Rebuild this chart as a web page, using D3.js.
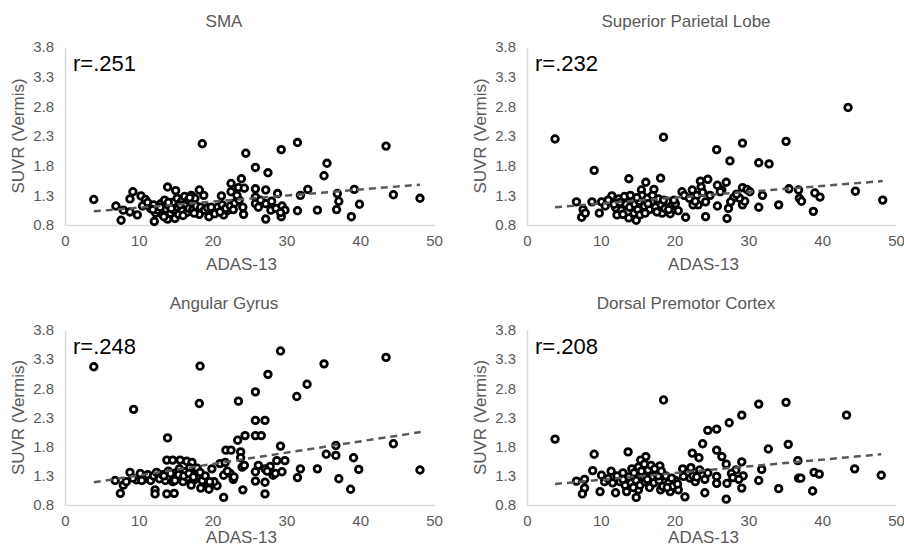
<!DOCTYPE html>
<html>
<head>
<meta charset="utf-8">
<script src="https://cdnjs.cloudflare.com/ajax/libs/d3/7.8.5/d3.min.js"></script>
<style>
body {
    margin: 0;
    background: white;
    font-family: Helvetica, Arial, "Liberation Sans", sans-serif;
}
#canvas {
    background-color: white;
}
</style>
</head>
<body>
<svg id="canvas" width="904" height="548"></svg>
<script>
// tick values
var xTicks = [0, 10, 20, 30, 40, 50];
var yTicks = [0.8, 1.3, 1.8, 2.3, 2.8, 3.3, 3.8];

var titles = ["SMA", "Superior Parietal Lobe", "Angular Gyrus", "Dorsal Premotor Cortex"];
var rLabels = ["r=.251", "r=.232", "r=.248", "r=.208"];

// [ADAS-13, SUVR]
var smaPts = [[3.9,1.23],[18.6,2.17],[24.5,2.01],[29.3,2.07],[31.5,2.19],[43.5,2.13],[35.5,1.84],[35.1,1.63],[25.8,1.77],[27.5,1.68],
  [23.9,1.58],[22.5,1.50],[23.5,1.43],[24.3,1.42],[22.5,1.36],[21.2,1.29],[13.9,1.44],[15.0,1.38],[9.2,1.36],[8.8,1.24],
  [10.3,1.29],[10.9,1.23],[7.6,0.88],[6.9,1.12],[7.9,1.05],[8.8,1.02],[9.8,0.97],[12.1,0.86],[13.9,0.9],[14.9,0.91],
  [18.2,1.39],[18.8,1.30],[18.2,0.98],[19.5,0.94],[20.4,1.05],[21.5,0.97],[22.0,1.04],[24.2,0.98],[25.8,1.41],[25.8,1.27],
  [25.8,1.16],[27.2,1.39],[27.2,1.16],[27.2,0.9],[27.9,1.05],[28.6,1.08],[28.8,1.33],[29.4,1.12],[29.8,1.05],[29.3,0.94],
  [29.2,1.01],[31.5,1.04],[31.9,1.30],[32.9,1.40],[34.2,1.05],[36.9,1.33],[37.1,1.20],[36.8,1.06],[39.2,1.40],[38.8,0.94],
  [39.9,1.15],[44.5,1.31],[48.1,1.25],
  [10.5,1.12],[11.2,1.18],[11.6,1.08],[12.0,1.14],[12.3,1.0],[12.6,1.05],[13.0,1.16],[13.2,0.98],[13.5,1.22],[13.7,1.07],
  [14.1,1.12],[14.3,1.0],[14.6,1.18],[14.8,1.05],[15.2,1.25],[15.3,1.1],[15.4,0.98],[15.8,1.2],[15.9,1.05],[16.2,1.28],
  [16.3,1.15],[16.5,1.01],[16.7,1.22],[16.8,1.08],[17.1,1.3],[17.2,1.18],[17.3,1.05],[17.6,1.25],[17.8,1.12],[18.4,1.1],
  [18.9,1.05],[19.3,1.09],[20.0,1.03],[20.7,1.1],[21.3,1.14],[21.8,1.08],[22.4,1.12],[23.0,1.17],[23.6,1.22],[24.1,1.1],
  [26.5,1.22],[28.0,1.2],
  [11.9,1.06],[12.9,1.1],[13.4,0.94],[14.0,1.18],[14.4,1.08],[15.6,1.14],[16.0,0.96],[16.9,1.26],[17.5,1.0],[19.8,1.1],
  [20.3,0.99],[21.0,1.02],[22.8,1.06],[23.3,1.3],[26.2,1.1]];

var splPts = [[3.8,2.25],[18.5,2.28],[9.1,1.72],[13.8,1.58],[18.1,1.59],[16.1,1.52],[25.7,2.07],[29.2,2.18],[35.1,2.21],[27.5,1.88],
  [31.4,1.85],[32.8,1.83],[43.5,2.78],[24.5,1.57],[23.5,1.54],[23.6,1.44],[25.8,1.47],[27.0,1.52],[26.4,1.39],[29.2,1.43],
  [29.8,1.40],[35.5,1.41],[36.8,1.39],[36.9,1.25],[37.2,1.20],[31.9,1.30],[39.0,1.34],[39.7,1.27],[44.5,1.37],[48.2,1.22],
  [38.8,1.03],[34.1,1.14],[31.4,1.10],[29.2,1.14],[29.5,1.20],[28.8,1.25],[28.0,1.26],[27.6,1.19],[27.3,1.08],[27.1,0.91],
  [25.8,1.12],[24.2,0.94],[21.5,0.93],[23.2,1.14],[22.5,1.14],[24.2,1.19],[21.0,1.36],[22.4,1.39],[6.7,1.19],[7.6,1.06],
  [7.4,0.93],[7.9,1.0],[8.8,1.19],[9.8,1.0],[10.1,1.19],[11.5,1.29],[12.2,0.97],[12.0,1.09],[13.8,0.92],[14.8,0.88],
  [14.5,1.0],[17.2,1.40],[18.3,1.0],[19.4,0.99],[20.5,1.04],[15.5,1.39],[15.6,1.30],
  [10.6,1.12],[11.0,1.22],[11.8,1.15],[12.4,1.24],[12.8,1.05],[13.2,1.28],[13.4,1.15],[13.9,1.1],[14.2,1.24],[14.6,1.15],
  [15.0,1.06],[15.2,1.2],[15.9,1.12],[16.3,1.25],[16.6,1.06],[16.9,1.18],[17.4,1.1],[17.8,1.24],[18.2,1.14],[18.7,1.08],
  [19.0,1.2],[19.6,1.12],[20.1,1.16],[21.3,1.3],[22.0,1.25],[23.0,1.3],[23.8,1.35],[26.2,1.36],[28.4,1.32],
  [12.6,1.18],[13.0,0.98],[14.0,1.3],[14.9,1.26],[15.3,0.97],[16.0,1.0],[16.4,1.16],[17.0,1.3],[17.6,1.02],[18.5,1.22],
  [19.2,1.06],[19.9,1.22],[22.8,1.2],[24.8,1.3],[30.2,1.36]];

var agPts = [[3.9,3.17],[18.3,3.18],[29.2,3.44],[35.1,3.22],[43.5,3.33],[27.5,3.04],[25.8,2.74],[31.4,2.66],[32.8,2.87],[23.5,2.58],
  [18.2,2.54],[9.3,2.44],[25.8,2.25],[27.1,2.25],[13.9,1.95],[25.8,1.99],[26.6,1.99],[24.4,1.99],[23.4,1.91],[29.2,1.81],
  [36.7,1.82],[44.5,1.85],[48.1,1.40],[21.8,1.74],[22.5,1.74],[23.8,1.71],[23.8,1.61],[36.7,1.65],[35.4,1.67],[39.1,1.61],
  [34.2,1.42],[31.9,1.42],[39.8,1.41],[31.5,1.27],[37.1,1.25],[38.7,1.07],[29.8,1.56],[28.7,1.56],[29.4,1.37],[27.8,1.46],
  [27.1,1.42],[27.4,1.38],[25.8,1.37],[25.8,1.21],[27.1,1.19],[27.1,0.99],[28.2,1.31],[28.5,1.34],[24.1,1.06],[21.5,0.93],
  [22.8,1.24],[22.4,1.34],[21.5,1.31],[21.0,1.51],[21.7,1.53],[19.9,1.42],[19.4,1.14],[19.5,1.07],[20.6,1.13],[18.4,1.09],
  [13.8,1.57],[14.6,1.57],[15.6,1.57],[16.5,1.55],[17.2,1.53],[17.9,1.43],[7.5,1.0],[7.9,1.14],[6.8,1.22],[8.8,1.36],
  [9.7,1.23],[10.2,1.34],[12.2,1.06],[12.2,0.99],[13.8,0.99],[14.8,1.0],[17.1,1.14],
  [10.8,1.25],[11.2,1.32],[11.6,1.22],[12.0,1.3],[12.4,1.36],[12.8,1.25],[13.2,1.32],[13.6,1.22],[14.0,1.38],[14.2,1.28],
  [14.6,1.2],[15.0,1.35],[15.2,1.26],[15.5,1.42],[15.8,1.3],[16.0,1.2],[16.3,1.37],[16.6,1.27],[16.9,1.44],[17.3,1.32],
  [17.6,1.24],[18.0,1.3],[18.6,1.22],[19.0,1.3],[20.2,1.2],[22.9,1.28],[24.0,1.45],[26.2,1.48],
  [13.4,1.3],[14.3,1.34],[14.9,1.22],[15.4,1.32],[16.1,1.3],[16.8,1.34],[17.4,1.28],[18.3,1.36],[8.3,1.2],[9.2,1.26],
  [10.4,1.22],[19.6,1.2],[22.0,1.38],[24.3,1.48]];

var dpcPts = [[3.8,1.93],[18.5,2.60],[35.1,2.56],[31.4,2.53],[29.1,2.34],[27.4,2.21],[25.7,2.10],[24.5,2.08],[43.3,2.34],[23.8,1.85],
  [32.7,1.76],[35.4,1.84],[9.1,1.67],[13.7,1.71],[22.4,1.69],[23.3,1.61],[25.7,1.74],[26.4,1.63],[27.0,1.50],[29.1,1.54],
  [36.7,1.56],[16.1,1.63],[15.4,1.57],[18.0,1.47],[8.9,1.39],[11.4,1.38],[14.2,1.42],[44.4,1.42],[48.0,1.31],[38.9,1.36],
  [39.6,1.33],[36.8,1.26],[37.1,1.26],[31.8,1.41],[31.4,1.22],[34.1,1.08],[38.7,1.04],[29.1,1.09],[27.0,0.90],[27.1,1.17],
  [25.7,1.29],[25.7,1.17],[24.1,1.01],[21.4,0.94],[29.3,1.30],[28.3,1.40],[27.7,1.34],[27.9,1.27],[24.1,1.24],[22.8,1.20],
  [22.1,1.26],[21.1,1.42],[22.2,1.44],[21.2,1.29],[23.4,1.40],[6.7,1.21],[7.8,1.24],[7.8,1.09],[7.5,0.99],[9.9,1.03],
  [10.1,1.31],[12.0,1.01],[13.5,1.03],[14.8,0.93],[15.1,1.06],[20.5,1.06],[19.4,1.03],[18.1,1.06],
  [10.5,1.2],[11.0,1.25],[11.6,1.18],[12.2,1.3],[12.6,1.2],[13.0,1.35],[13.3,1.14],[13.8,1.28],[14.1,1.18],[14.5,1.35],
  [14.8,1.22],[15.1,1.45],[15.3,1.14],[15.7,1.3],[16.0,1.2],[16.4,1.4],[16.6,1.1],[16.9,1.28],[17.2,1.18],[17.5,1.36],
  [17.9,1.22],[18.4,1.12],[18.8,1.3],[19.2,1.18],[19.7,1.12],[20.1,1.22],[22.5,1.3],[24.5,1.35],
  [13.0,1.24],[14.4,1.1],[15.5,1.38],[15.9,1.5],[16.3,1.24],[16.8,1.48],[17.3,1.42],[17.8,1.3],[18.2,1.38],[19.0,1.1],
  [19.6,1.26],[20.4,1.16],[23.0,1.28],[28.7,1.24]];

// linear trend line end points
var smaTrend = [[3.9,1.03],[48.1,1.48]];
var splTrend = [[3.8,1.10],[48.2,1.54]];
var agTrend = [[3.9,1.19],[48.2,2.05]];
var dpcTrend = [[3.8,1.16],[48.0,1.67]];

var allPts = [smaPts, splPts, agPts, dpcPts];
var allTrends = [smaTrend, splTrend, agTrend, dpcTrend];

// panel frames: left/right of x axis, bottom/top of y axis, title centre
var frames = [
    {x0: 65, x1: 434, yb: 225, yt: 47, tx: 224, ty: 27, lx: 270},
    {x0: 527, x1: 896, yb: 225, yt: 47, tx: 686, ty: 27, lx: 270},
    {x0: 65, x1: 434, yb: 505, yt: 330, tx: 224, ty: 309, lx: 543},
    {x0: 527, x1: 896, yb: 505, yt: 330, tx: 686, ty: 309, lx: 543}
];

var canvas = d3.select("#canvas");
var grey = "#595959";

frames.forEach(function(f, i) {
    var x = d3.scaleLinear().domain([0, 50]).range([f.x0, f.x1]);
    var y = d3.scaleLinear().domain([0.8, 3.8]).range([f.yb, f.yt]);
    var g = canvas.append("g");

    g.append("text")
        .attr("x", f.tx).attr("y", f.ty)
        .attr("text-anchor", "middle")
        .style("font-size", "17px")
        .style("fill", grey)
        .text(titles[i]);

    var xa = g.append("g")
        .attr("transform", "translate(0," + f.yb + ")")
        .call(d3.axisBottom(x).tickValues(xTicks).tickSize(0).tickPadding(10).tickFormat(d3.format("d")));
    var ya = g.append("g")
        .attr("transform", "translate(" + f.x0 + ",0)")
        .call(d3.axisLeft(y).tickValues(yTicks).tickSize(0).tickPadding(11).tickFormat(d3.format(".1f")));
    [xa, ya].forEach(function(a) {
        a.select(".domain").attr("stroke", "#d9d9d9").attr("stroke-width", 1.5);
        a.selectAll("text")
            .style("font-size", "15px")
            .style("font-family", "Helvetica, Arial, 'Liberation Sans', sans-serif")
            .attr("fill", grey);
    });

    g.append("text")
        .attr("transform", "translate(" + (f.x0 - 47) + "," + ((f.yb + f.yt) / 2) + ") rotate(-90)")
        .attr("text-anchor", "middle")
        .attr("dy", "0.35em")
        .style("font-size", "17px")
        .style("fill", grey)
        .text("SUVR (Vermis)");

    g.append("text")
        .attr("x", (f.x0 + f.x1) / 2 - 8)
        .attr("y", f.lx)
        .attr("text-anchor", "middle")
        .style("font-size", "17px")
        .style("fill", grey)
        .text("ADAS-13");

    g.append("text")
        .attr("x", f.x0 + 8)
        .attr("y", f.yt + 24)
        .style("font-size", "22px")
        .style("fill", "black")
        .text(rLabels[i]);

    g.selectAll("circle")
        .data(allPts[i])
        .enter().append("circle")
        .attr("cx", function(d) { return x(d[0]); })
        .attr("cy", function(d) { return y(d[1]); })
        .attr("r", 3.3)
        .attr("fill", "white")
        .attr("stroke", "black")
        .attr("stroke-width", 2.8);

    g.append("path")
        .datum(allTrends[i])
        .attr("d", d3.line().x(function(d) { return x(d[0]); }).y(function(d) { return y(d[1]); }))
        .attr("fill", "none")
        .attr("stroke", grey)
        .attr("stroke-width", 2.5)
        .attr("stroke-dasharray", "7,5");
});
</script>
</body>
</html>
